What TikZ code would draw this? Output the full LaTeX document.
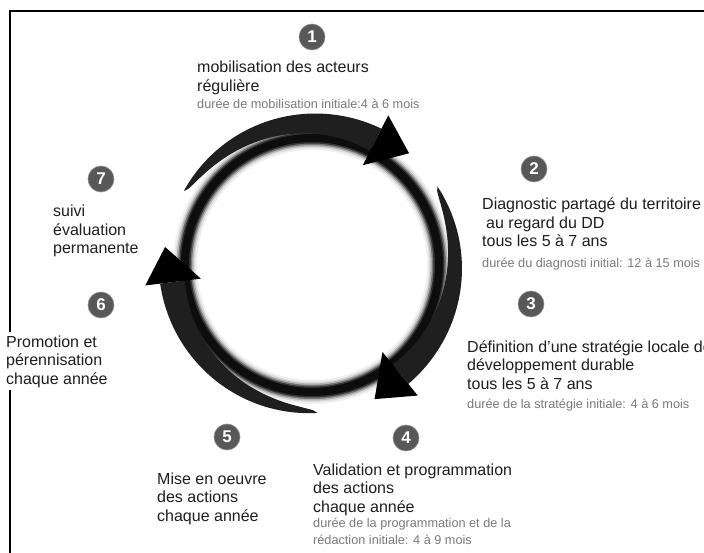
\documentclass[tikz,border=0pt]{standalone}
\usepackage{fontspec}
\setmainfont{Liberation Sans}
\definecolor{txt}{HTML}{1E1E1E}
\definecolor{smalltxt}{HTML}{7A7A7A}
\definecolor{numfill}{HTML}{585858}
\newcommand\cycarrow[2]{%
  \fill[body] plot[domain=#1:#2,samples=60,smooth] (\x:{148+5*((\x-(#1))/((#2)-(#1)))})
     -- plot[domain=#2:#1,samples=60,smooth] (\x:{148-20*sqrt((\x-(#1))/((#2)-(#1)))}) -- cycle;
  \fill[black] ({#2}:112) -- ({#2}:168) -- ({#2+14}:148) -- cycle;
}
\begin{document}
\begin{tikzpicture}[x=1pt,y=-1pt,
  numc/.style={circle, fill=numfill, draw=black!45, line width=0.6pt, text=white,
    font=\bfseries\fontsize{17}{17}\selectfont, minimum size=26pt, inner sep=0pt},
  maintext/.style={anchor=base west, align=left, inner sep=0pt, text=txt,
    font=\fontsize{16}{18.5}\selectfont},
  smalltext/.style={anchor=base west, align=left, inner sep=0pt, text=smalltxt,
    font=\fontsize{12.7}{17.5}\selectfont},
  body/.style={fill=black!88},
]
\useasboundingbox (0,0) rectangle (704,553);
\fill[white] (0,0) rectangle (704,553);
\draw[line width=2.4pt] (10,553) -- (10,11) -- (704,11);

\begin{scope}[shift={(312,265)}]
  \foreach \w/\c in {24/6,20/14,17/30,14/55,11/80,8/95}
    \draw[line width=\w pt, black!\c] (0,0) circle[radius=127pt];
  \cycarrow{-150}{-63}
  \cycarrow{-32}{51}
  \cycarrow{88}{173}
\end{scope}

\node[numc] (n1) at (312,37) {1};
\node[maintext] (t1) at (197,91.5) {mobilisation des acteurs\\régulière};
\node[smalltext] (s1) at (197,109) {durée de mobilisation initiale:4 à 6 mois};

\node[numc] (n2) at (534,169) {2};
\node[maintext] (t2) at (482,247) {Diagnostic partagé du territoire\\\hspace*{4pt}au regard du DD\\tous les 5 à 7 ans};
\node[smalltext] (s2) at (482,268) {durée du diagnosti initial: 12 à 15 mois};

\node[numc] (n3) at (531,304) {3};
\node[maintext] (t3) at (467,389) {Définition d'une stratégie locale de\\développement durable\\tous les 5 à 7 ans};
\node[smalltext] (s3) at (467,408) {durée de la stratégie initiale: 4 à 6 mois};

\node[numc] (n4) at (406,438) {4};
\node[maintext] (t4) at (313,512) {Validation et programmation\\des actions\\chaque année};
\node[smalltext] (s4) at (313,544.5) {durée de la programmation et de la\\rédaction initiale: 4 à 9 mois};

\node[numc] (n5) at (227,437) {5};
\node[maintext] (t5) at (157,521) {Mise en oeuvre\\des actions\\chaque année};

\node[numc] (n6) at (101,305) {6};
\node[maintext, fill=white, inner ysep=3pt] (t6) at (6,384) {Promotion et\\pérennisation\\chaque année};

\node[numc] (n7) at (101,179) {7};
\node[maintext] (t7) at (53,254) {suivi\\évaluation\\permanente};
\end{tikzpicture}
\end{document}
